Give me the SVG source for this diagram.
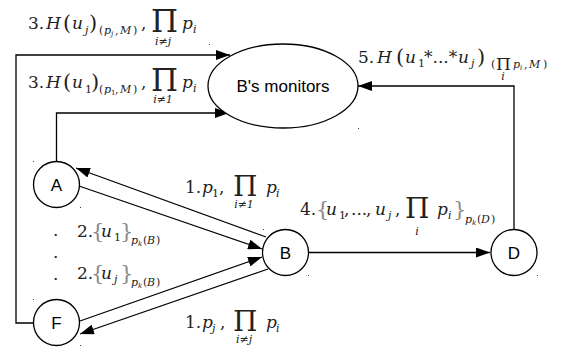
<svg xmlns="http://www.w3.org/2000/svg" width="562" height="350" viewBox="0 0 562 350">
<defs>
<marker id="ah" viewBox="0 0 14 10" refX="14" refY="5" markerWidth="14" markerHeight="10" markerUnits="userSpaceOnUse" orient="auto">
<path d="M0,0 L14,5 L0,10 z" fill="#000"/>
</marker>
<style>
.n{fill:#fff;stroke:#000;stroke-width:1.3}
.c{fill:none;stroke:#000;stroke-width:1.3;marker-end:url(#ah)}
.lbl{font-family:"Liberation Sans",Arial,sans-serif;font-size:17px;fill:#000;text-anchor:middle}
.m{font-family:"DejaVu Serif",serif;font-size:17px;fill:#222}
.i{font-style:italic}
.s{font-size:11px}
.ss{font-size:7px}
.par{font-size:21px}
.lim{font-family:"DejaVu Serif",serif;font-size:11px;font-style:italic;fill:#222;text-anchor:middle}
.g{fill:#888}
.dot{fill:#444}
</style>
</defs>
<rect width="562" height="350" fill="#fff"/>

<g id="connectors">
<path class="c" d="M34,323 H16 V55 H230"/>
<path class="c" d="M56.5,161 V113 H229"/>
<path class="c" d="M514,229 V86 H358"/>
<path class="c" d="M266,237 L76,168"/>
<path class="c" d="M79,186 L262,249"/>
<path class="c" d="M80,321 L262,257"/>
<path class="c" d="M268,269 L80,334"/>
<path class="c" d="M309,252.5 L490,252.5"/>
</g>

<g id="monitors">
<ellipse class="n" cx="283" cy="86" rx="75" ry="42"/>
<text class="lbl" x="283" y="92">B's monitors</text>
</g>
<g id="A">
<circle class="n" cx="56.5" cy="184.5" r="23"/>
<text class="lbl" x="56.5" y="190.5">A</text>
</g>
<g id="F">
<circle class="n" cx="56.5" cy="322.5" r="23"/>
<text class="lbl" x="56.5" y="328.5">F</text>
</g>
<g id="B">
<circle class="n" cx="285.5" cy="252.5" r="23"/>
<text class="lbl" x="285.5" y="258.5">B</text>
</g>
<g id="D">
<circle class="n" cx="514" cy="252.5" r="23"/>
<text class="lbl" x="514" y="258.5">D</text>
</g>

<g id="labels">
<!-- 3. H(u_j) -->
<text class="m"><tspan x="28" y="29">3.</tspan><tspan class="i" x="46" y="29">H</tspan><tspan class="par" x="63" y="30">(</tspan><tspan class="i" x="72" y="29">u</tspan><tspan class="s i" x="85" y="34">j</tspan><tspan class="par" x="89" y="30">)</tspan><tspan class="s" x="99" y="34">(</tspan><tspan class="s i" x="104" y="34">p</tspan><tspan class="ss i" x="111" y="36">j</tspan><tspan class="s" x="115" y="34">,</tspan><tspan class="s i" x="120" y="34">M</tspan><tspan class="s" x="133" y="34">)</tspan><tspan x="141" y="29">,</tspan><tspan x="151" y="32" font-size="31">Π</tspan><tspan class="i" x="182" y="29">p</tspan><tspan class="s i" x="193" y="33">i</tspan></text>
<text class="lim" x="163" y="45">i≠j</text>

<!-- 3. H(u_1) -->
<text class="m"><tspan x="28" y="88">3.</tspan><tspan class="i" x="46" y="88">H</tspan><tspan class="par" x="63" y="89">(</tspan><tspan class="i" x="72" y="88">u</tspan><tspan class="s" x="85" y="93">1</tspan><tspan class="par" x="91" y="89">)</tspan><tspan class="s" x="99" y="93">(</tspan><tspan class="s i" x="104" y="93">p</tspan><tspan class="ss" x="111" y="95">1</tspan><tspan class="s" x="115" y="93">,</tspan><tspan class="s i" x="120" y="93">M</tspan><tspan class="s" x="133" y="93">)</tspan><tspan x="141" y="88">,</tspan><tspan x="151" y="91" font-size="31">Π</tspan><tspan class="i" x="182" y="88">p</tspan><tspan class="s i" x="193" y="92">i</tspan></text>
<text class="lim" x="163" y="103">i≠1</text>

<!-- 5. -->
<text class="m"><tspan x="358" y="63">5.</tspan><tspan class="i" x="377" y="63">H</tspan><tspan class="par" x="396" y="64">(</tspan><tspan class="i" x="405" y="63">u</tspan><tspan class="s" x="418" y="67">1</tspan><tspan x="424" y="63">*...*</tspan><tspan class="i" x="458" y="63">u</tspan><tspan class="s i" x="471" y="67">j</tspan><tspan class="par" x="477" y="64">)</tspan><tspan class="s" x="491" y="68">(</tspan><tspan x="496" y="70" font-size="17">Π</tspan><tspan class="s i" x="513" y="68">p</tspan><tspan class="ss i" x="520" y="70">i</tspan><tspan class="s" x="524" y="68">,</tspan><tspan class="s i" x="529" y="68">M</tspan><tspan class="s" x="543" y="68">)</tspan></text>
<text class="lim" x="503" y="80" font-size="8">i</text>

<!-- 1. p_1 -->
<text class="m"><tspan x="185" y="193">1.</tspan><tspan class="i" x="202" y="193">p</tspan><tspan class="s" x="212" y="197">1</tspan><tspan x="219" y="193">,</tspan><tspan x="233" y="196" font-size="28">Π</tspan><tspan class="i" x="266" y="193">p</tspan><tspan class="s i" x="276" y="197">i</tspan></text>
<text class="lim" x="244" y="208">i≠1</text>

<!-- 1. p_j -->
<text class="m"><tspan x="185" y="328">1.</tspan><tspan class="i" x="202" y="328">p</tspan><tspan class="s i" x="212" y="332">j</tspan><tspan x="220" y="328">,</tspan><tspan x="233" y="331" font-size="28">Π</tspan><tspan class="i" x="266" y="328">p</tspan><tspan class="s i" x="276" y="332">i</tspan></text>
<text class="lim" x="244" y="343">i≠j</text>

<!-- 4. -->
<text class="m"><tspan x="300" y="215">4.</tspan><tspan class="par g" x="316" y="216">{</tspan><tspan class="i" x="326" y="215">u</tspan><tspan class="s" x="339" y="219">1</tspan><tspan x="344" y="215">,</tspan><tspan x="351" y="215">...</tspan><tspan x="366" y="215">,</tspan><tspan class="i" x="375" y="215">u</tspan><tspan class="s i" x="388" y="219">j</tspan><tspan x="395" y="215">,</tspan><tspan x="405" y="218" font-size="28">Π</tspan><tspan class="i" x="437" y="215">p</tspan><tspan class="s i" x="448" y="219">i</tspan><tspan class="par g" x="453" y="216">}</tspan><tspan class="s i" x="465" y="223">p</tspan><tspan class="ss i" x="472" y="225">k</tspan><tspan class="s" x="477" y="223">(</tspan><tspan class="s i" x="481" y="223">D</tspan><tspan class="s" x="491" y="223">)</tspan></text>
<text class="lim" x="417" y="235">i</text>

<!-- 2. u_1 -->
<text class="m"><tspan x="77" y="237">2.</tspan><tspan class="par g" x="91" y="238">{</tspan><tspan class="i" x="101" y="237">u</tspan><tspan class="s" x="114" y="241">1</tspan><tspan class="par g" x="120" y="238">}</tspan><tspan class="s i" x="131" y="244">p</tspan><tspan class="ss i" x="138" y="246">k</tspan><tspan class="s" x="143" y="244">(</tspan><tspan class="s i" x="147" y="244">B</tspan><tspan class="s" x="156" y="244">)</tspan></text>

<!-- 2. u_j -->
<text class="m"><tspan x="77" y="279">2.</tspan><tspan class="par g" x="91" y="280">{</tspan><tspan class="i" x="101" y="279">u</tspan><tspan class="s i" x="114" y="283">j</tspan><tspan class="par g" x="120" y="280">}</tspan><tspan class="s i" x="131" y="286">p</tspan><tspan class="ss i" x="138" y="288">k</tspan><tspan class="s" x="143" y="286">(</tspan><tspan class="s i" x="147" y="286">B</tspan><tspan class="s" x="156" y="286">)</tspan></text>

<!-- vertical dots -->
<text class="m"><tspan x="53" y="236">.</tspan><tspan x="53" y="258">.</tspan><tspan x="53" y="280">.</tspan></text>
</g>

<g id="marks">
<rect class="dot" x="33" y="161" width="1" height="1"/>
<rect class="dot" x="80" y="207" width="1" height="1"/>
<rect class="dot" x="33" y="299" width="1" height="1"/>
<rect class="dot" x="80" y="345" width="1" height="1"/>
<rect class="dot" x="263" y="229" width="1" height="1"/>
<rect class="dot" x="308" y="275" width="1" height="1"/>
<rect class="dot" x="537" y="275" width="1" height="1"/>
<rect class="dot" x="209" y="44" width="1" height="1"/>
<rect class="dot" x="358" y="128" width="1" height="1"/>
</g>
</svg>
